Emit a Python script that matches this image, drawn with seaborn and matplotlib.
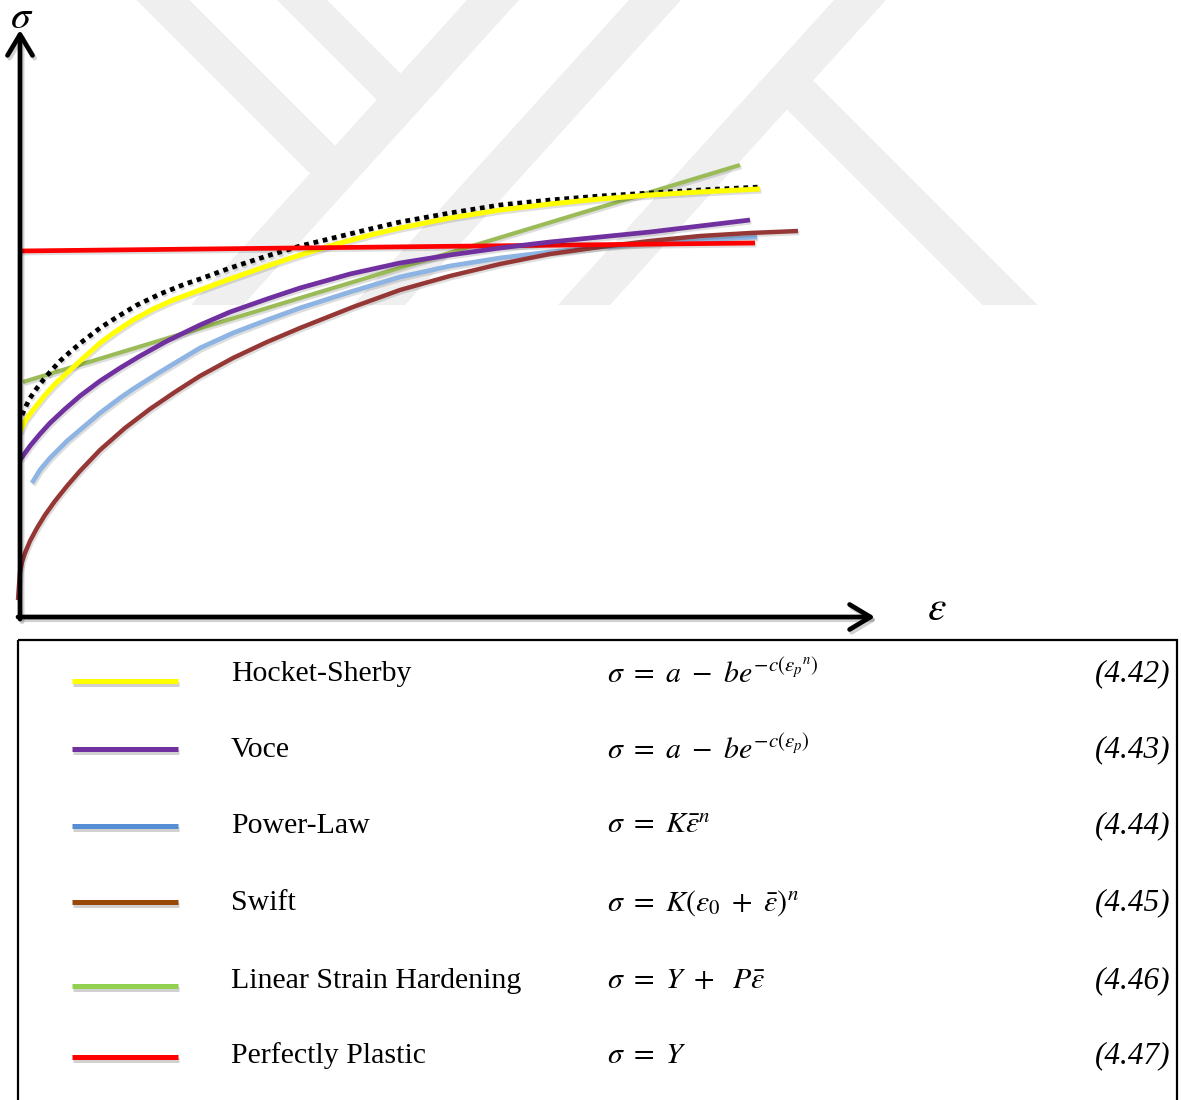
import numpy as np
import pandas as pd
import seaborn as sns
import matplotlib.pyplot as plt
import matplotlib.patheffects as pe
from matplotlib.patches import Polygon, Rectangle

# strain / stress (arbitrary units, origin at the axes corner)
hs_x = [0, 5, 13, 25, 35, 47, 60, 80, 95, 113, 133, 153, 180, 210, 247, 280, 313, 350,
        380, 430, 480, 530, 580, 630, 680, 740]
hs_y = [185, 196, 207, 222, 233, 244, 256, 274, 285, 297, 308, 317, 327, 338, 351, 362, 372,
        382, 389, 399, 407, 413, 418, 422, 425, 428]

exp_x = [2, 6, 10, 17, 24, 30, 40, 50, 63, 80, 97, 117, 140, 165, 180, 210, 247, 280, 313,
         350, 380, 430, 480, 530, 580, 630, 680, 740]
exp_y = [202, 211, 219, 229, 238, 245, 256, 265, 276, 289, 300, 312, 323, 333, 338, 349, 361,
         371, 379, 388, 395, 404, 412, 417, 421, 424, 427, 430]

voce_x = [0, 10, 20, 30, 45, 60, 80, 100, 120, 147, 180, 210, 247, 280, 330, 380, 430, 480,
          530, 580, 630, 680, 730]
voce_y = [157, 171, 183, 194, 208, 221, 236, 249, 261, 276, 292, 305, 318, 329, 343, 354, 362,
          369, 375, 380, 385, 391, 397]

power_x = [12, 20, 30, 40, 47, 60, 80, 100, 113, 140, 180, 213, 247, 280, 330, 380, 430, 480,
           530, 580, 660, 737]
power_y = [134, 147, 159, 169, 176, 187, 204, 219, 228, 245, 269, 284, 297, 309, 325, 340, 351,
           359, 365, 370, 376, 380]

swift_x = [-2, -1, 0, 2, 5, 10, 17, 25, 35, 47, 60, 80, 105, 130, 155, 180, 213, 247, 280, 333,
           380, 430, 480, 530, 580, 630, 680, 730, 778]
swift_y = [17, 32, 45, 55, 64, 76, 89, 102, 116, 131, 146, 167, 189, 208, 225, 241, 259, 275,
           289, 310, 327, 341, 353, 363, 370, 376, 381, 384, 386]

linear_x = [3, 300, 720]
linear_y = [235, 325, 452]

plastic_x = [-2, 735]
plastic_y = [366, 374]

names = ['Hocket-Sherby', 'Voce', 'Power-Law', 'Swift',
         'Linear Strain Hardening', 'Perfectly Plastic']
equations = [r'$\sigma\ =\ a\ -\ be^{-c(\varepsilon_{p}{}^{n})}$',
             r'$\sigma\ =\ a\ -\ be^{-c(\varepsilon_{p})}$',
             r'$\sigma\ =\ K\bar{\varepsilon}^{n}$',
             r'$\sigma\ =\ K(\varepsilon_{0}\ +\ \bar{\varepsilon})^{n}$',
             r'$\sigma\ =\ Y\ +\ \ P\bar{\varepsilon}$',
             r'$\sigma\ =\ Y$']
eq_numbers = ['(4.42)', '(4.43)', '(4.44)', '(4.45)', '(4.46)', '(4.47)']
legend_colors = ['#FFFF00', '#7030A0', '#558ED5', '#984807', '#92D050', '#FF0000']

sns.set_style('white')
plt.rcParams['mathtext.fontset'] = 'stix'
plt.rcParams['font.family'] = ['Liberation Serif', 'DejaVu Serif']
plt.rcParams['text.color'] = 'black'

W, H = 1181, 1100
fig = plt.figure(figsize=(W / 100, H / 100), dpi=100)

# background layer in pixel coordinates (watermark + legend table)
bg = fig.add_axes([0, 0, 1, 1])
bg.set_xlim(0, W)
bg.set_ylim(H, 0)
bg.axis('off')

# faint watermark bands: (x at top, x at bottom, y top, y bottom, width)
bands = [(163, 336, 0, 173, 53), (302, 402, 0, 100, 50), (493, 217, 0, 305, 52),
         (655, 379, 0, 305, 52), (860, 584, 0, 305, 52), (786, 1010, 81, 305, 55)]
for xt, xb, yt, yb, w in bands:
    bg.add_patch(Polygon([(xt - w / 2, yt), (xt + w / 2, yt), (xb + w / 2, yb), (xb - w / 2, yb)],
                         closed=True, color='#efefef', lw=0, zorder=0))

# main plot area
ax = fig.add_axes([20 / W, (H - 617) / H, 860 / W, 597 / H])
ax.set_xlim(0, 860)
ax.set_ylim(0, 597)
ax.axis('off')
ax.patch.set_alpha(0)

shadow = [pe.SimpleLineShadow(offset=(1, -1.5), shadow_color='black', alpha=0.13), pe.Normal()]

curves = [
    (linear_x, linear_y, '#9BBB59', 3.0, '-'),
    (power_x, power_y, '#8DB4E2', 3.4, '-'),
    (swift_x, swift_y, '#953735', 3.2, '-'),
    (exp_x, exp_y, 'black', 3.4, (0, (1, 1))),
    (hs_x, hs_y, '#FFFF00', 3.6, '-'),
    (plastic_x, plastic_y, '#FF0000', 3.4, '-'),
    (voce_x, voce_y, '#7030A0', 3.4, '-'),
]
for i, (xs, ys, c, lw, ls) in enumerate(curves):
    sns.lineplot(x=xs, y=ys, sort=False, estimator=None, color=c, lw=lw,
                 linestyle=ls, solid_capstyle='butt', solid_joinstyle='round',
                 path_effects=shadow, ax=ax, zorder=3 + i, clip_on=False)

# axes arrows
arrow = dict(arrowstyle='->,head_length=0.75,head_width=0.45', lw=3.4, color='black',
             mutation_scale=20, shrinkA=0, shrinkB=0, capstyle='round', joinstyle='round',
             path_effects=[pe.SimpleLineShadow(offset=(1.5, -2), alpha=0.18), pe.Normal()])
ax.annotate('', xy=(0, 587), xytext=(0, -2), xycoords='data', arrowprops=arrow,
            annotation_clip=False, zorder=20)
ax.annotate('', xy=(855, 0), xytext=(-2, 0), xycoords='data', arrowprops=arrow,
            annotation_clip=False, zorder=20)

bg.text(22, 28, r'$\sigma$', fontsize=29, ha='center', va='baseline')
bg.text(937, 610, r'$\varepsilon$', fontsize=30, ha='center', va='center')

# legend table
bg.add_patch(Rectangle((18, 640), 1159, 480, fill=False, ec='black', lw=1.6, zorder=5))
swatch_y = [681, 749, 826, 902, 986, 1057]
text_y = [674, 750, 826, 903, 981, 1056]
for i in range(len(names)):
    bg.plot([72, 178], [swatch_y[i], swatch_y[i]], color=legend_colors[i], lw=3.6,
            solid_capstyle='butt',
            path_effects=[pe.SimpleLineShadow(offset=(1, -2.5), alpha=0.18), pe.Normal()])
    bg.text(231, text_y[i], names[i], fontsize=21.5, va='center', ha='left')
    bg.text(607, text_y[i], equations[i], fontsize=21.5, va='center', ha='left')
    bg.text(1170, text_y[i], eq_numbers[i], fontsize=22.5, style='italic', va='center', ha='right')

fig.savefig('out.png', dpi=100)
